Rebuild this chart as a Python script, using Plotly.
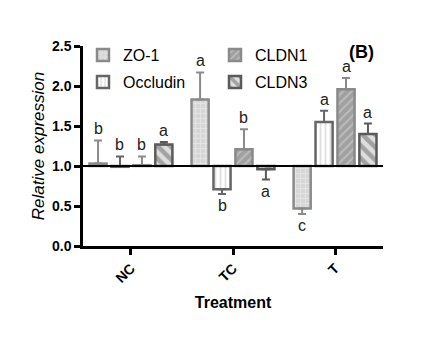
import plotly.graph_objects as go

groups = ["NC", "TC", "T"]
series = ["ZO-1", "Occludin", "CLDN1", "CLDN3"]
values = {
    "ZO-1":     [1.03, 1.83, 0.47],
    "Occludin": [0.99, 0.71, 1.55],
    "CLDN1":    [1.01, 1.21, 1.96],
    "CLDN3":    [1.27, 0.96, 1.40],
}
errors = {
    "ZO-1":     [0.29, 0.34, 0.07],
    "Occludin": [0.13, 0.06, 0.14],
    "CLDN1":    [0.11, 0.25, 0.14],
    "CLDN3":    [0.03, 0.13, 0.13],
}
# +1: error bar drawn upward, -1: downward
err_dir = {
    "ZO-1":     [1, 1, -1],
    "Occludin": [1, -1, 1],
    "CLDN1":    [1, 1, 1],
    "CLDN3":    [1, -1, 1],
}
letters = {
    "ZO-1":     ["b", "a", "c"],
    "Occludin": ["b", "b", "a"],
    "CLDN1":    ["b", "b", "a"],
    "CLDN3":    ["a", "a", "a"],
}
baseline = 1.0

styles = {
    "ZO-1":     dict(line="#8a8a8a", bg="#d6d6d6", fg="#f4f4f4", shape="+", size=5, sol=0.3,
                     legend="legend", lx=0.0, ly=1.04),
    "Occludin": dict(line="#666666", bg="#ffffff", fg="#bdbdbd", shape="|", size=5, sol=0.35,
                     legend="legend2", lx=0.0, ly=0.905),
    "CLDN1":    dict(line="#8a8a8a", bg="#a0a0a0", fg="#d6d6d6", shape="/", size=6, sol=0.35,
                     legend="legend3", lx=0.44, ly=1.04),
    "CLDN3":    dict(line="#5a5a5a", bg="#dddddd", fg="#686868", shape="\\", size=9, sol=0.5,
                     legend="legend4", lx=0.44, ly=0.905),
}

FONT = "Liberation Sans, Arial, sans-serif"
fig = go.Figure()
slot = 0.215
legend_layout = {}
for j, s in enumerate(series):
    st = styles[s]
    v = values[s]
    e = errors[s]
    d = err_dir[s]
    up = [err if dd > 0 else 0 for err, dd in zip(e, d)]
    dn = [err if dd < 0 else 0 for err, dd in zip(e, d)]
    fig.add_trace(go.Bar(
        name=s, x=groups, y=[val - baseline for val in v], base=baseline,
        marker=dict(color=st["bg"], line=dict(color=st["line"], width=2.5),
                    pattern=dict(shape=st["shape"], fgcolor=st["fg"], bgcolor=st["bg"],
                                 size=st["size"], solidity=st["sol"], fillmode="overlay")),
        error_y=dict(type="data", symmetric=False, array=up, arrayminus=dn,
                     color=st["line"], thickness=2, width=4),
        legend=st["legend"],
    ))
    legend_layout[st["legend"]] = dict(
        x=st["lx"], y=st["ly"], xanchor="left", yanchor="top", bgcolor="rgba(0,0,0,0)",
        font=dict(family=FONT, size=16), itemwidth=30)
    # significance letters
    for i, g in enumerate(groups):
        xpos = i + (j - 1.5) * slot
        if d[i] > 0:
            ypos = v[i] + e[i]
            yanchor = "bottom"
        else:
            ypos = v[i] - e[i]
            yanchor = "top"
        fig.add_annotation(x=xpos, y=ypos, xref="x", yref="y", text=letters[s][i],
                           showarrow=False, yanchor=yanchor, yshift=1 if yanchor == "bottom" else -1,
                           font=dict(family=FONT, size=16, color="#222"))

fig.add_hline(y=baseline, line=dict(color="black", width=2))

fig.add_annotation(x=1.0, y=1.0, xref="paper", yref="paper", text="<b>(B)</b>",
                   showarrow=False, xanchor="right", yanchor="top", xshift=-7, yshift=6,
                   font=dict(family=FONT, size=18, color="black"))

fig.update_layout(
    width=443, height=345,
    margin=dict(l=83, r=60, t=46, b=99),
    paper_bgcolor="white", plot_bgcolor="white",
    barmode="group", bargap=0.14, bargroupgap=0.22,
    font=dict(family=FONT, color="black"),
    showlegend=True,
    xaxis=dict(range=[-0.47, 2.47], showline=True, linecolor="black", linewidth=2.5,
               ticks="outside", ticklen=6, tickwidth=2.5, tickcolor="black",
               tickangle=-45, tickfont=dict(family=FONT, size=14, weight="bold"),
               title=dict(text="<b>Treatment</b>", font=dict(family=FONT, size=16), standoff=12),
               showgrid=False, zeroline=False),
    yaxis=dict(range=[0, 2.5], showline=True, linecolor="black", linewidth=2.5,
               ticks="outside", ticklen=6, tickwidth=2.5, tickcolor="black",
               tickvals=[0, 0.5, 1.0, 1.5, 2.0, 2.5], tickformat=".1f",
               tickfont=dict(family=FONT, size=14, weight="bold"),
               title=dict(text="<i>Relative expression</i>", font=dict(family=FONT, size=17), standoff=4),
               showgrid=False, zeroline=False),
    **legend_layout,
)

fig.write_html("out.html")
